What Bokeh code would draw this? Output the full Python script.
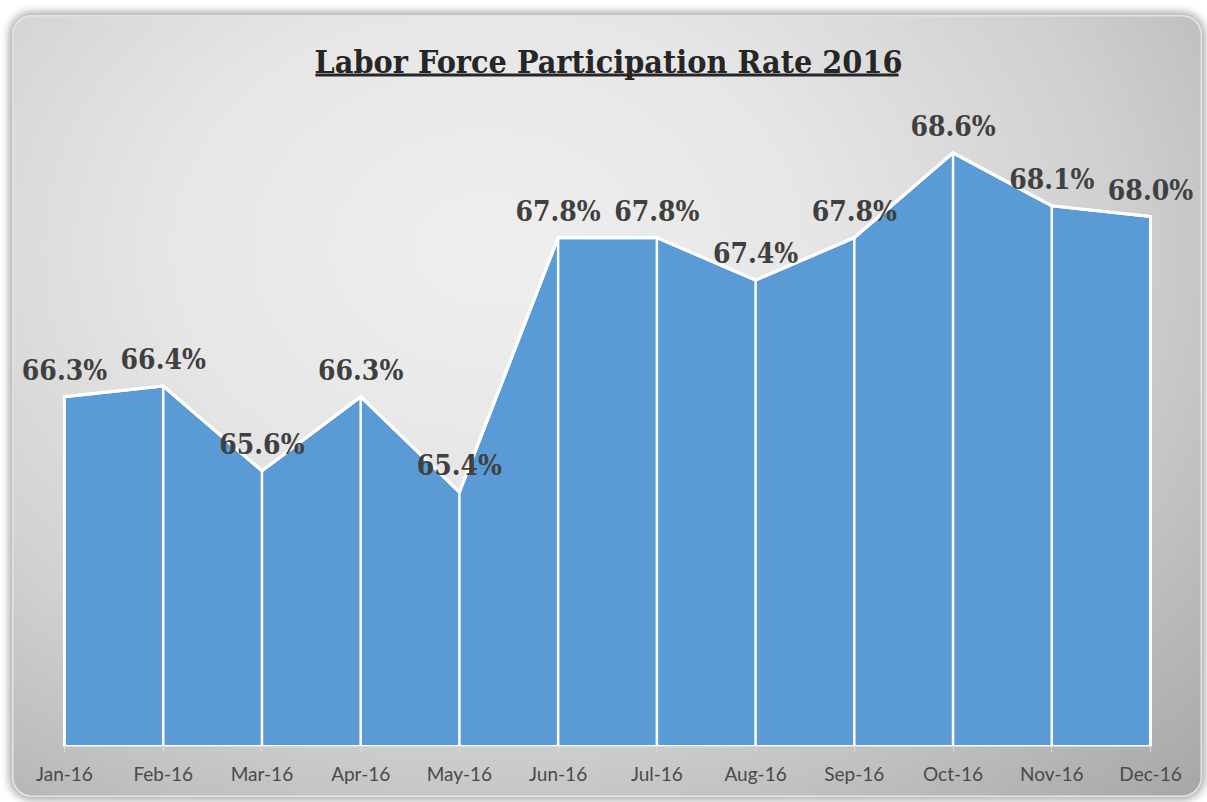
from bokeh.plotting import figure
from bokeh.models import Range1d, FixedTicker, ColumnDataSource, LabelSet, Label, BoxAnnotation
from bokeh.core.properties import value
from bokeh.embed import file_html
from bokeh.resources import INLINE

# ---- data ----
months = ["Jan-16", "Feb-16", "Mar-16", "Apr-16", "May-16", "Jun-16",
          "Jul-16", "Aug-16", "Sep-16", "Oct-16", "Nov-16", "Dec-16"]
rates = [66.3, 66.4, 65.6, 66.3, 65.4, 67.8, 67.8, 67.4, 67.8, 68.6, 68.1, 68.0]
labels = ["66.3%", "66.4%", "65.6%", "66.3%", "65.4%", "67.8%",
          "67.8%", "67.4%", "67.8%", "68.6%", "68.1%", "68.0%"]
title_text = "Labor Force Participation Rate 2016"
y_min = 63.0

xs = list(range(len(months)))
base = [y_min] * len(xs)

# ---- layout (pixels) ----
W, H = 1190, 782           # chart box
PAD_L, PAD_R = 52, 52      # first / last category from box edge
BOTTOM = 51                # axis panel height
PX_X = (W - PAD_L - PAD_R) / (len(xs) - 1)
PX_Y = 106.0               # pixels per percentage point
FRAME_H = H - BOTTOM
x_start = -PAD_L / PX_X
x_end = (len(xs) - 1) + PAD_R / PX_X
y_end = y_min + FRAME_H / PX_Y

def xdat(fx):
    return x_start + fx / PX_X

def ydat(fy):
    return y_min + (FRAME_H - fy) / PX_Y

p = figure(width=W, height=H, output_backend="svg", toolbar_location=None,
           x_range=Range1d(x_start, x_end), y_range=Range1d(y_min, y_end),
           min_border_left=0, min_border_right=0, min_border_top=0,
           min_border_bottom=BOTTOM, title=None)
p.background_fill_alpha = 0
p.border_fill_alpha = 0
p.outline_line_color = None
p.styles = {
    "margin-left": "12px",
    "margin-top": "15px",
    "border-radius": "20px",
    "box-shadow": "inset 0 0 0 1.5px #e4e4e4, 0 0 9px 3px rgba(0,0,0,0.35)",
    "background": "radial-gradient(ellipse farthest-corner at 40% 30%, #efefef 0%, #e6e6e6 32%, #d0d0d0 62%, #a6a6a6 100%)",
}
p.xgrid.visible = False
p.ygrid.visible = False
p.yaxis.visible = False

# area
patch_x = [xs[0]] + xs + [xs[-1]]
patch_y = [y_min] + rates + [y_min]
p.patch(patch_x, patch_y, fill_color="#5b9bd5", line_color="white", line_width=3,
        line_join="miter")
p.segment(x0=xs, y0=base, x1=xs, y1=rates, line_color="white", line_width=2.5)
p.line(xs, rates, line_color="white", line_width=3, line_join="miter")

# data labels
src = ColumnDataSource(dict(x=xs, y=rates, t=labels))
p.add_layout(LabelSet(x="x", y="y", text="t", source=src, y_offset=17,
                      text_align="center", text_baseline="alphabetic",
                      text_font=value("DejaVu Serif Condensed"), text_font_style="bold",
                      text_font_size="28px", text_color="#404040"))

# axis
p.xaxis.ticker = FixedTicker(ticks=xs)
p.xaxis.bounds = (xs[0], xs[-1])
p.xaxis.major_label_overrides = {i: m for i, m in enumerate(months)}
p.xaxis.axis_line_color = "#d9d9d9"
p.xaxis.major_tick_line_color = "#d9d9d9"
p.xaxis.major_tick_in = 0
p.xaxis.major_tick_out = 6
p.xaxis.minor_tick_line_color = None
p.xaxis.major_label_standoff = 9
p.xaxis.major_label_text_font = "Lato"
p.xaxis.major_label_text_font_size = "19px"
p.xaxis.major_label_text_color = "#4a4a4a"

# title + underline
p.add_layout(Label(x=xdat(W / 2 + 1), y=ydat(46), text=title_text,
                   text_align="center", text_baseline="alphabetic",
                   text_font="DejaVu Serif Condensed", text_font_style="bold",
                   text_font_size="32px", text_color="#262626"))
p.add_layout(BoxAnnotation(left=xdat(303), right=xdat(886), top=ydat(58), bottom=ydat(61),
                           fill_color="#262626", fill_alpha=1, line_color=None,
                           level="overlay"))

open("out.html", "w").write(file_html(p, INLINE))
